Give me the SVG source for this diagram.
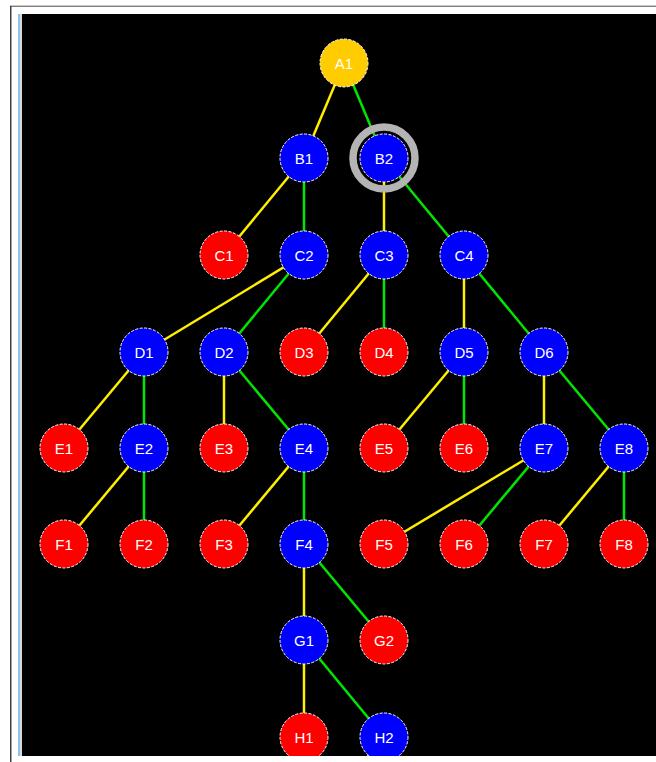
<svg xmlns="http://www.w3.org/2000/svg" width="656" height="762" viewBox="0 0 656 762">
<style>
.n circle{stroke:#fff;stroke-width:1;stroke-dasharray:3 1.5}
.b circle{fill:#0000ff}
.r circle{fill:#ff0000}
.a circle{fill:#ffcc00}
.n text{fill:#fff;font-family:"Liberation Sans",Arial,sans-serif;font-size:15px;text-anchor:middle;dominant-baseline:central}
.y{stroke:#ffee00;stroke-width:2.5}
.g{stroke:#00e600;stroke-width:2.5}
</style>
<defs>
<clipPath id="cv"><rect x="22" y="14" width="634" height="742"/></clipPath>
</defs>
<rect x="0" y="0" width="656" height="762" fill="#fff"/>
<rect x="10" y="5" width="646" height="1" fill="#c8c8c8"/>
<rect x="10" y="6" width="646" height="1" fill="#808080"/>
<rect x="10" y="6" width="1.5" height="756" fill="#404040"/>
<rect x="18" y="14" width="2" height="742" fill="#8cc4ec"/>
<rect x="20" y="14" width="2" height="742" fill="#d8d8d8"/>
<rect x="22" y="14" width="634" height="742" fill="#000"/>
<g clip-path="url(#cv)">
<g id="connectors">
<line class="y" x1="344" y1="63" x2="304" y2="158"/>
<line class="g" x1="344" y1="63" x2="384" y2="158"/>
<line class="y" x1="304" y1="158" x2="224" y2="255"/>
<line class="g" x1="304" y1="158" x2="304" y2="255"/>
<line class="y" x1="384" y1="158" x2="384" y2="255"/>
<line class="g" x1="384" y1="158" x2="464" y2="255"/>
<line class="y" x1="304" y1="255" x2="144" y2="352"/>
<line class="g" x1="304" y1="255" x2="224" y2="352"/>
<line class="y" x1="384" y1="255" x2="304" y2="352"/>
<line class="g" x1="384" y1="255" x2="384" y2="352"/>
<line class="y" x1="464" y1="255" x2="464" y2="352"/>
<line class="g" x1="464" y1="255" x2="544" y2="352"/>
<line class="y" x1="144" y1="352" x2="64" y2="448"/>
<line class="g" x1="144" y1="352" x2="144" y2="448"/>
<line class="y" x1="224" y1="352" x2="224" y2="448"/>
<line class="g" x1="224" y1="352" x2="304" y2="448"/>
<line class="y" x1="464" y1="352" x2="384" y2="448"/>
<line class="g" x1="464" y1="352" x2="464" y2="448"/>
<line class="y" x1="544" y1="352" x2="544" y2="448"/>
<line class="g" x1="544" y1="352" x2="624" y2="448"/>
<line class="y" x1="144" y1="448" x2="64" y2="544"/>
<line class="g" x1="144" y1="448" x2="144" y2="544"/>
<line class="y" x1="304" y1="448" x2="224" y2="544"/>
<line class="g" x1="304" y1="448" x2="304" y2="544"/>
<line class="y" x1="544" y1="448" x2="384" y2="544"/>
<line class="g" x1="544" y1="448" x2="464" y2="544"/>
<line class="y" x1="624" y1="448" x2="544" y2="544"/>
<line class="g" x1="624" y1="448" x2="624" y2="544"/>
<line class="y" x1="304" y1="544" x2="304" y2="640"/>
<line class="g" x1="304" y1="544" x2="384" y2="640"/>
<line class="y" x1="304" y1="640" x2="304" y2="737"/>
<line class="g" x1="304" y1="640" x2="384" y2="737"/>
<line class="y" x1="384" y1="737" x2="304" y2="833"/>
</g>
<circle cx="384" cy="158" r="31" fill="none" stroke="#b4b4b4" stroke-width="7.5"/>
<g id="A1" class="n a"><circle cx="344" cy="63" r="24"/><text x="344" y="63">A1</text></g>
<g id="B1" class="n b"><circle cx="304" cy="158" r="24"/><text x="304" y="158">B1</text></g>
<g id="B2" class="n b"><circle cx="384" cy="158" r="24"/><text x="384" y="158">B2</text></g>
<g id="C1" class="n r"><circle cx="224" cy="255" r="24"/><text x="224" y="255">C1</text></g>
<g id="C2" class="n b"><circle cx="304" cy="255" r="24"/><text x="304" y="255">C2</text></g>
<g id="C3" class="n b"><circle cx="384" cy="255" r="24"/><text x="384" y="255">C3</text></g>
<g id="C4" class="n b"><circle cx="464" cy="255" r="24"/><text x="464" y="255">C4</text></g>
<g id="D1" class="n b"><circle cx="144" cy="352" r="24"/><text x="144" y="352">D1</text></g>
<g id="D2" class="n b"><circle cx="224" cy="352" r="24"/><text x="224" y="352">D2</text></g>
<g id="D3" class="n r"><circle cx="304" cy="352" r="24"/><text x="304" y="352">D3</text></g>
<g id="D4" class="n r"><circle cx="384" cy="352" r="24"/><text x="384" y="352">D4</text></g>
<g id="D5" class="n b"><circle cx="464" cy="352" r="24"/><text x="464" y="352">D5</text></g>
<g id="D6" class="n b"><circle cx="544" cy="352" r="24"/><text x="544" y="352">D6</text></g>
<g id="E1" class="n r"><circle cx="64" cy="448" r="24"/><text x="64" y="448">E1</text></g>
<g id="E2" class="n b"><circle cx="144" cy="448" r="24"/><text x="144" y="448">E2</text></g>
<g id="E3" class="n r"><circle cx="224" cy="448" r="24"/><text x="224" y="448">E3</text></g>
<g id="E4" class="n b"><circle cx="304" cy="448" r="24"/><text x="304" y="448">E4</text></g>
<g id="E5" class="n r"><circle cx="384" cy="448" r="24"/><text x="384" y="448">E5</text></g>
<g id="E6" class="n r"><circle cx="464" cy="448" r="24"/><text x="464" y="448">E6</text></g>
<g id="E7" class="n b"><circle cx="544" cy="448" r="24"/><text x="544" y="448">E7</text></g>
<g id="E8" class="n b"><circle cx="624" cy="448" r="24"/><text x="624" y="448">E8</text></g>
<g id="F1" class="n r"><circle cx="64" cy="544" r="24"/><text x="64" y="544">F1</text></g>
<g id="F2" class="n r"><circle cx="144" cy="544" r="24"/><text x="144" y="544">F2</text></g>
<g id="F3" class="n r"><circle cx="224" cy="544" r="24"/><text x="224" y="544">F3</text></g>
<g id="F4" class="n b"><circle cx="304" cy="544" r="24"/><text x="304" y="544">F4</text></g>
<g id="F5" class="n r"><circle cx="384" cy="544" r="24"/><text x="384" y="544">F5</text></g>
<g id="F6" class="n r"><circle cx="464" cy="544" r="24"/><text x="464" y="544">F6</text></g>
<g id="F7" class="n r"><circle cx="544" cy="544" r="24"/><text x="544" y="544">F7</text></g>
<g id="F8" class="n r"><circle cx="624" cy="544" r="24"/><text x="624" y="544">F8</text></g>
<g id="G1" class="n b"><circle cx="304" cy="640" r="24"/><text x="304" y="640">G1</text></g>
<g id="G2" class="n r"><circle cx="384" cy="640" r="24"/><text x="384" y="640">G2</text></g>
<g id="H1" class="n r"><circle cx="304" cy="737" r="24"/><text x="304" y="737">H1</text></g>
<g id="H2" class="n b"><circle cx="384" cy="737" r="24"/><text x="384" y="737">H2</text></g>
</g>
</svg>
